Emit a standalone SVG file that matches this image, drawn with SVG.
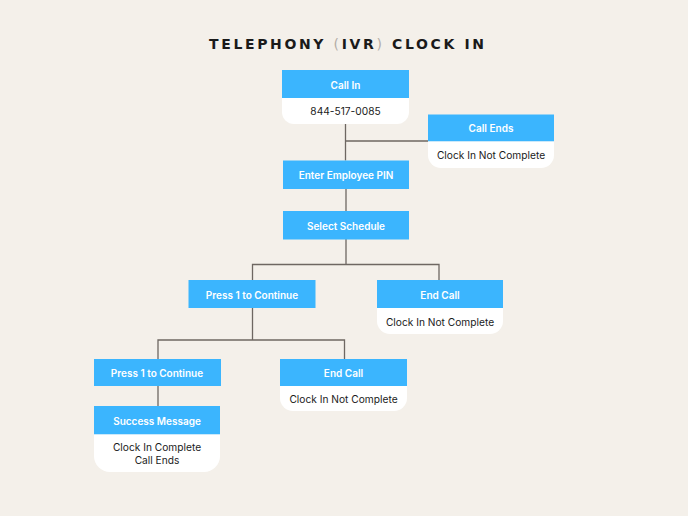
<svg xmlns="http://www.w3.org/2000/svg" width="688" height="516" viewBox="0 0 688 516">
<style>
.hd{fill:#3bb5fe}
.bd{fill:#ffffff}
.ht{font-family:Inter,"Liberation Sans",sans-serif;font-size:10px;font-weight:600;fill:#ffffff;text-anchor:middle;dominant-baseline:central}
.bt{font-family:Inter,"Liberation Sans",sans-serif;font-size:10.2px;fill:#1a1a1a;text-anchor:middle;dominant-baseline:central}
.ln{fill:none;stroke:#6e6762;stroke-width:1.3}
</style>
<rect width="688" height="516" fill="#f4f0ea"/>
<text x="346.5" y="43.5" font-family="'DejaVu Sans',sans-serif" font-size="14" font-weight="bold" fill="#1a1a1a" text-anchor="middle" dominant-baseline="central" textLength="275" lengthAdjust="spacing">TELEPHONY <tspan fill="#b3aca6" font-weight="normal">(</tspan>IVR<tspan fill="#b3aca6" font-weight="normal">)</tspan> CLOCK IN</text>
<g id="connectors">
<path class="ln" d="M345.5 124 V160.5 M345.5 141 H428"/>
<path class="ln" d="M346 189 V211"/>
<path class="ln" d="M346 239 V264.5 M252.5 280 V264.5 H439 V280"/>
<path class="ln" d="M252.5 308 V340 M158 359 V340 H344.5 V359"/>
<path class="ln" d="M158 386 V406"/>
</g>
<g id="call-in">
<rect class="hd" x="282" y="70" width="127" height="28"/>
<path class="bd" d="M282 98 H409 V112 A12 12 0 0 1 397 124 H294 A12 12 0 0 1 282 112 Z"/>
<text class="ht" x="345.5" y="84.5">Call In</text>
<text class="bt" x="345.5" y="111">844-517-0085</text>
</g>
<g id="call-ends">
<rect class="hd" x="428" y="114.5" width="126" height="27"/>
<path class="bd" d="M428 141.5 H554 V155 A13 13 0 0 1 541 168 H441 A13 13 0 0 1 428 155 Z"/>
<text class="ht" x="491" y="128">Call Ends</text>
<text class="bt" x="491" y="154.5">Clock In Not Complete</text>
</g>
<g id="enter-pin">
<rect class="hd" x="283" y="160.5" width="126" height="28.5"/>
<text class="ht" x="346" y="174.5">Enter Employee PIN</text>
</g>
<g id="select-schedule">
<rect class="hd" x="283" y="211" width="126" height="28.5"/>
<text class="ht" x="346" y="225.5">Select Schedule</text>
</g>
<g id="press1-a">
<rect class="hd" x="188.5" y="280" width="127" height="28"/>
<text class="ht" x="252" y="294.5">Press 1 to Continue</text>
</g>
<g id="end-call-a">
<rect class="hd" x="377" y="280" width="126" height="28"/>
<path class="bd" d="M377 308 H503 V321 A13 13 0 0 1 490 334 H390 A13 13 0 0 1 377 321 Z"/>
<text class="ht" x="440" y="294.5">End Call</text>
<text class="bt" x="440" y="321.5">Clock In Not Complete</text>
</g>
<g id="press1-b">
<rect class="hd" x="94" y="359" width="127" height="27"/>
<text class="ht" x="157" y="373">Press 1 to Continue</text>
</g>
<g id="end-call-b">
<rect class="hd" x="280" y="359" width="127" height="27"/>
<path class="bd" d="M280 386 H407 V398 A13 13 0 0 1 394 411 H293 A13 13 0 0 1 280 398 Z"/>
<text class="ht" x="343.5" y="372.5">End Call</text>
<text class="bt" x="343.5" y="399">Clock In Not Complete</text>
</g>
<g id="success">
<rect class="hd" x="94" y="406" width="126" height="28.5"/>
<path class="bd" d="M94 434.5 H220 V456 A16 16 0 0 1 204 472 H110 A16 16 0 0 1 94 456 Z"/>
<text class="ht" x="157" y="420.5">Success Message</text>
<text class="bt" x="157" y="447">Clock In Complete</text>
<text class="bt" x="157" y="460">Call Ends</text>
</g>
</svg>
